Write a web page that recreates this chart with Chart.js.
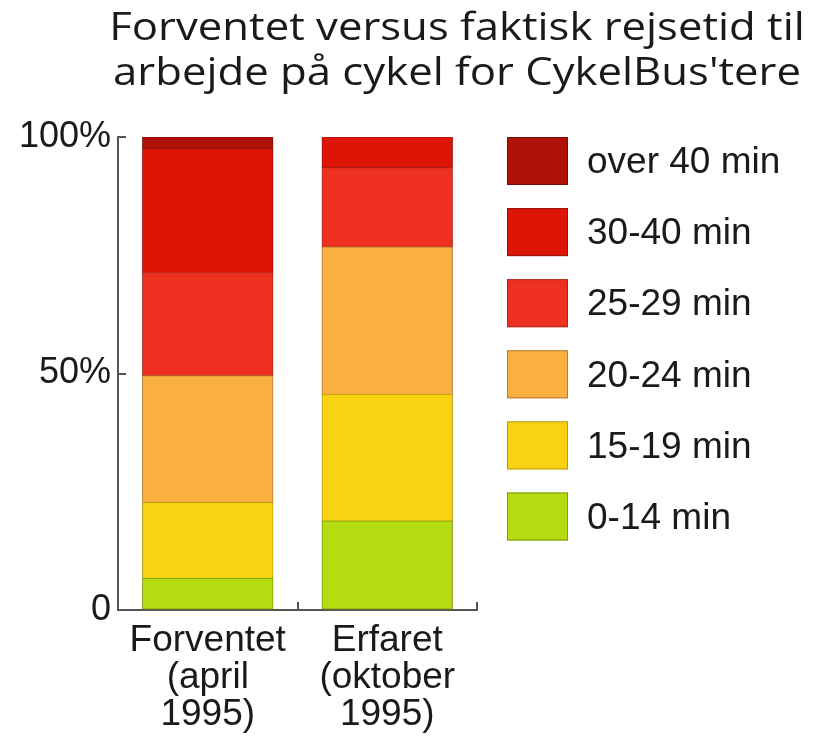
<!DOCTYPE html>
<html>
<head>
<meta charset="utf-8">
<title>Forventet versus faktisk rejsetid</title>
<script src="https://cdn.jsdelivr.net/npm/chart.js@4/dist/chart.umd.min.js"></script>
<style>
  html, body { margin: 0; padding: 0; background: #fff; }
  #chart { display: block; }
</style>
</head>
<body>
<canvas id="chart" width="821" height="741"></canvas>
<script>
// Forventet vs. erfaret rejsetid (andel af CykelBus'tere, %)

const titleLines = ["Forventet versus faktisk rejsetid til", "arbejde på cykel for CykelBus'tere"];
const categories = [["Forventet", "(april", "1995)"], ["Erfaret", "(oktober", "1995)"]];
const seriesLabels = ["0-14 min", "15-19 min", "20-24 min", "25-29 min", "30-40 min", "over 40 min"];
const seriesColors = ["#b4dc10", "#f9d312", "#f9b040", "#ee3020", "#de1406", "#b01208"];
const seriesEdges = ["#7f9a14", "#b39a14", "#b07c34", "#a8281c", "#9a140a", "#7a0e06"];

const min0to14 = [6.7, 18.8];
const min15to19 = [16.0, 26.8];
const min20to24 = [26.8, 31.1];
const min25to29 = [21.9, 16.8];
const min30to40 = [26.1, 6.5];
const over40 = [2.5, 0];

const yTicks = [0, 50, 100];

const seriesValues = [min0to14, min15to19, min20to24, min25to29, min30to40, over40];

const AXIS_COLOR = "#555";
const TEXT_COLOR = "#1a1a1a";
const LABEL_FONT = "Liberation Sans, Arial, sans-serif";

// title + side legend drawn on the canvas
const decorPlugin = {
  id: "decor",
  afterDraw(chart) {
    const ctx = chart.ctx;
    const area = chart.chartArea;
    ctx.save();

    // title (the original lettering is a bit wide, so stretch it a little)
    ctx.fillStyle = TEXT_COLOR;
    ctx.font = "39px 'Open Sans', sans-serif";
    ctx.textAlign = "center";
    ctx.textBaseline = "alphabetic";
    ctx.save();
    ctx.translate(457, 0);
    ctx.scale(1.12, 1);
    ctx.fillText(titleLines[0], 0, 40);
    ctx.fillText(titleLines[1], 0, 85);
    ctx.restore();

    // legend, top item = last dataset
    const boxX = area.right + 30;
    const boxW = 61;
    const boxH = 48;
    const step = 71.1;
    const items = chart.data.datasets.slice().reverse();
    ctx.font = "37px " + LABEL_FONT;
    ctx.textAlign = "left";
    ctx.textBaseline = "middle";
    items.forEach((ds, i) => {
      const y = area.top + i * step;
      ctx.fillStyle = ds.backgroundColor;
      ctx.fillRect(boxX, y, boxW, boxH);
      ctx.strokeStyle = ds.borderColor;
      ctx.lineWidth = 1;
      ctx.strokeRect(boxX + 0.5, y + 0.5, boxW - 1, boxH - 1);
      ctx.fillStyle = TEXT_COLOR;
      ctx.fillText(ds.label, boxX + boxW + 19, y + boxH / 2 + 2);
    });

    ctx.restore();
  }
};

const ctx = document.getElementById("chart").getContext("2d");

const chart = new Chart(ctx, {
  type: "bar",
  data: {
    labels: categories,
    datasets: seriesLabels.map((label, i) => ({
      label: label,
      data: seriesValues[i],
      backgroundColor: seriesColors[i],
      borderColor: seriesEdges[i],
      borderWidth: 1,
      borderSkipped: false,
      inflateAmount: 0.6,
      barPercentage: 0.725,
      categoryPercentage: 1.0,
    })),
  },
  options: {
    responsive: false,
    animation: false,
    layout: {
      padding: { top: 137, right: 344, bottom: 0, left: 0 }
    },
    plugins: {
      legend: { display: false },
      title: { display: false },
      tooltip: { enabled: false },
    },
    scales: {
      x: {
        stacked: true,
        offset: true,
        grid: {
          offset: true,
          drawOnChartArea: false,
          tickLength: -8,
          color: AXIS_COLOR,
          lineWidth: 2,
        },
        border: { color: AXIS_COLOR, width: 2 },
        ticks: {
          color: TEXT_COLOR,
          padding: 20,
          maxRotation: 0,
          autoSkip: false,
          font: { family: LABEL_FONT, size: 37, lineHeight: 1.0 },
        },
        afterFit(scale) {
          scale.height = 131;
        },
      },
      y: {
        stacked: true,
        min: 0,
        max: 100,
        afterBuildTicks(scale) {
          scale.ticks = yTicks.map(v => ({ value: v }));
        },
        grid: {
          drawOnChartArea: false,
          tickLength: -8,
          color: AXIS_COLOR,
          lineWidth: 2,
        },
        border: { color: AXIS_COLOR, width: 2 },
        ticks: {
          color: TEXT_COLOR,
          padding: 15,
          font: { family: LABEL_FONT, size: 36 },
          callback: v => (v === 0 ? "0" : v + "%"),
        },
        afterFit(scale) {
          scale.width = 118;
        },
      },
    },
  },
  plugins: [decorPlugin],
});
</script>
</body>
</html>
